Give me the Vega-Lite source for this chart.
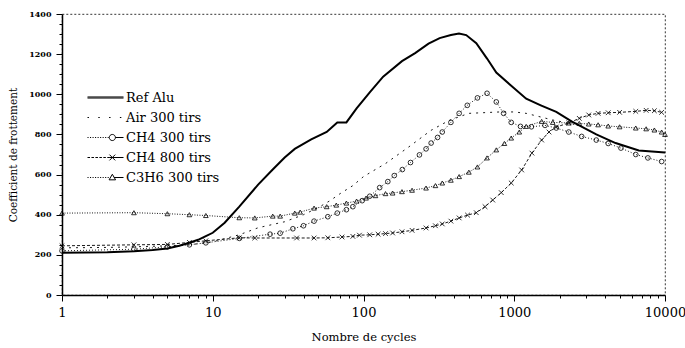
{
  "$schema": "https://vega.github.io/schema/vega-lite/v6.json",
  "width": 603,
  "height": 281,
  "autosize": {"type": "none"},
  "padding": {"left": 62, "top": 14, "right": 20, "bottom": 53},
  "background": "white",
  "config": {
    "view": {"stroke": "black", "strokeDash": [2, 2], "strokeWidth": 0.8},
    "axis": {"grid": false, "domainColor": "black", "tickColor": "black", "labelColor": "black", "titleColor": "black", "labelFont": "DejaVu Serif", "titleFont": "DejaVu Serif", "titleFontWeight": "normal"}
  },
  "data": {"values": [
    {"series": "Ref Alu", "x": 1, "y": 210}, {"series": "Ref Alu", "x": 2, "y": 213}, {"series": "Ref Alu", "x": 3, "y": 218}, {"series": "Ref Alu", "x": 4, "y": 224}, {"series": "Ref Alu", "x": 5, "y": 232}, {"series": "Ref Alu", "x": 6, "y": 245}, {"series": "Ref Alu", "x": 7, "y": 260}, {"series": "Ref Alu", "x": 8, "y": 275}, {"series": "Ref Alu", "x": 9, "y": 293}, {"series": "Ref Alu", "x": 10, "y": 310}, {"series": "Ref Alu", "x": 12, "y": 360}, {"series": "Ref Alu", "x": 15, "y": 440}, {"series": "Ref Alu", "x": 20, "y": 550}, {"series": "Ref Alu", "x": 25, "y": 625}, {"series": "Ref Alu", "x": 30, "y": 685}, {"series": "Ref Alu", "x": 35, "y": 728}, {"series": "Ref Alu", "x": 45, "y": 775}, {"series": "Ref Alu", "x": 57, "y": 812}, {"series": "Ref Alu", "x": 67, "y": 860}, {"series": "Ref Alu", "x": 77, "y": 860}, {"series": "Ref Alu", "x": 90, "y": 930}, {"series": "Ref Alu", "x": 110, "y": 1010}, {"series": "Ref Alu", "x": 135, "y": 1088}, {"series": "Ref Alu", "x": 180, "y": 1165}, {"series": "Ref Alu", "x": 220, "y": 1205}, {"series": "Ref Alu", "x": 270, "y": 1252}, {"series": "Ref Alu", "x": 320, "y": 1280}, {"series": "Ref Alu", "x": 380, "y": 1295}, {"series": "Ref Alu", "x": 430, "y": 1303}, {"series": "Ref Alu", "x": 480, "y": 1295}, {"series": "Ref Alu", "x": 560, "y": 1255}, {"series": "Ref Alu", "x": 660, "y": 1178}, {"series": "Ref Alu", "x": 760, "y": 1108}, {"series": "Ref Alu", "x": 930, "y": 1050}, {"series": "Ref Alu", "x": 1200, "y": 978}, {"series": "Ref Alu", "x": 1500, "y": 945}, {"series": "Ref Alu", "x": 1900, "y": 912}, {"series": "Ref Alu", "x": 2400, "y": 865}, {"series": "Ref Alu", "x": 3500, "y": 800}, {"series": "Ref Alu", "x": 4700, "y": 757}, {"series": "Ref Alu", "x": 6700, "y": 720}, {"series": "Ref Alu", "x": 10000, "y": 710},
    {"series": "Air 300 tirs", "x": 1, "y": 235}, {"series": "Air 300 tirs", "x": 2, "y": 237}, {"series": "Air 300 tirs", "x": 3, "y": 240}, {"series": "Air 300 tirs", "x": 5, "y": 245}, {"series": "Air 300 tirs", "x": 7, "y": 250}, {"series": "Air 300 tirs", "x": 10, "y": 265}, {"series": "Air 300 tirs", "x": 15, "y": 300}, {"series": "Air 300 tirs", "x": 20, "y": 335}, {"series": "Air 300 tirs", "x": 30, "y": 365}, {"series": "Air 300 tirs", "x": 40, "y": 400}, {"series": "Air 300 tirs", "x": 50, "y": 435}, {"series": "Air 300 tirs", "x": 60, "y": 470}, {"series": "Air 300 tirs", "x": 70, "y": 505}, {"series": "Air 300 tirs", "x": 85, "y": 545}, {"series": "Air 300 tirs", "x": 100, "y": 590}, {"series": "Air 300 tirs", "x": 140, "y": 655}, {"series": "Air 300 tirs", "x": 200, "y": 738}, {"series": "Air 300 tirs", "x": 280, "y": 820}, {"series": "Air 300 tirs", "x": 370, "y": 870}, {"series": "Air 300 tirs", "x": 500, "y": 905}, {"series": "Air 300 tirs", "x": 800, "y": 912}, {"series": "Air 300 tirs", "x": 1000, "y": 912}, {"series": "Air 300 tirs", "x": 1200, "y": 905}, {"series": "Air 300 tirs", "x": 1800, "y": 872}, {"series": "Air 300 tirs", "x": 2500, "y": 850},
    {"series": "CH4 300 tirs", "x": 1, "y": 220}, {"series": "CH4 300 tirs", "x": 3, "y": 228}, {"series": "CH4 300 tirs", "x": 5, "y": 240}, {"series": "CH4 300 tirs", "x": 7, "y": 250}, {"series": "CH4 300 tirs", "x": 9, "y": 260}, {"series": "CH4 300 tirs", "x": 15, "y": 282}, {"series": "CH4 300 tirs", "x": 24, "y": 303}, {"series": "CH4 300 tirs", "x": 28, "y": 308}, {"series": "CH4 300 tirs", "x": 34, "y": 330}, {"series": "CH4 300 tirs", "x": 40, "y": 345}, {"series": "CH4 300 tirs", "x": 47, "y": 368}, {"series": "CH4 300 tirs", "x": 58, "y": 390}, {"series": "CH4 300 tirs", "x": 67, "y": 408}, {"series": "CH4 300 tirs", "x": 77, "y": 425}, {"series": "CH4 300 tirs", "x": 85, "y": 440}, {"series": "CH4 300 tirs", "x": 98, "y": 470}, {"series": "CH4 300 tirs", "x": 110, "y": 492}, {"series": "CH4 300 tirs", "x": 128, "y": 535}, {"series": "CH4 300 tirs", "x": 145, "y": 565}, {"series": "CH4 300 tirs", "x": 160, "y": 595}, {"series": "CH4 300 tirs", "x": 181, "y": 625}, {"series": "CH4 300 tirs", "x": 205, "y": 660}, {"series": "CH4 300 tirs", "x": 235, "y": 698}, {"series": "CH4 300 tirs", "x": 260, "y": 728}, {"series": "CH4 300 tirs", "x": 281, "y": 757}, {"series": "CH4 300 tirs", "x": 310, "y": 785}, {"series": "CH4 300 tirs", "x": 333, "y": 812}, {"series": "CH4 300 tirs", "x": 380, "y": 860}, {"series": "CH4 300 tirs", "x": 431, "y": 905}, {"series": "CH4 300 tirs", "x": 488, "y": 945}, {"series": "CH4 300 tirs", "x": 570, "y": 982}, {"series": "CH4 300 tirs", "x": 660, "y": 1005}, {"series": "CH4 300 tirs", "x": 760, "y": 962}, {"series": "CH4 300 tirs", "x": 850, "y": 905}, {"series": "CH4 300 tirs", "x": 955, "y": 860}, {"series": "CH4 300 tirs", "x": 1100, "y": 840}, {"series": "CH4 300 tirs", "x": 1300, "y": 838}, {"series": "CH4 300 tirs", "x": 1600, "y": 845}, {"series": "CH4 300 tirs", "x": 1900, "y": 832}, {"series": "CH4 300 tirs", "x": 2300, "y": 812}, {"series": "CH4 300 tirs", "x": 2800, "y": 790}, {"series": "CH4 300 tirs", "x": 3500, "y": 772}, {"series": "CH4 300 tirs", "x": 4200, "y": 755}, {"series": "CH4 300 tirs", "x": 5100, "y": 732}, {"series": "CH4 300 tirs", "x": 6400, "y": 700}, {"series": "CH4 300 tirs", "x": 7700, "y": 683}, {"series": "CH4 300 tirs", "x": 9500, "y": 665},
    {"series": "CH4 800 tirs", "x": 1, "y": 245}, {"series": "CH4 800 tirs", "x": 3, "y": 250}, {"series": "CH4 800 tirs", "x": 5, "y": 252}, {"series": "CH4 800 tirs", "x": 7, "y": 262}, {"series": "CH4 800 tirs", "x": 9, "y": 270}, {"series": "CH4 800 tirs", "x": 15, "y": 285}, {"series": "CH4 800 tirs", "x": 19, "y": 284}, {"series": "CH4 800 tirs", "x": 36, "y": 284}, {"series": "CH4 800 tirs", "x": 47, "y": 284}, {"series": "CH4 800 tirs", "x": 58, "y": 285}, {"series": "CH4 800 tirs", "x": 72, "y": 289}, {"series": "CH4 800 tirs", "x": 85, "y": 292}, {"series": "CH4 800 tirs", "x": 94, "y": 298}, {"series": "CH4 800 tirs", "x": 110, "y": 300}, {"series": "CH4 800 tirs", "x": 125, "y": 303}, {"series": "CH4 800 tirs", "x": 140, "y": 306}, {"series": "CH4 800 tirs", "x": 156, "y": 309}, {"series": "CH4 800 tirs", "x": 180, "y": 315}, {"series": "CH4 800 tirs", "x": 210, "y": 322}, {"series": "CH4 800 tirs", "x": 260, "y": 334}, {"series": "CH4 800 tirs", "x": 300, "y": 345}, {"series": "CH4 800 tirs", "x": 333, "y": 354}, {"series": "CH4 800 tirs", "x": 380, "y": 368}, {"series": "CH4 800 tirs", "x": 431, "y": 384}, {"series": "CH4 800 tirs", "x": 490, "y": 398}, {"series": "CH4 800 tirs", "x": 560, "y": 410}, {"series": "CH4 800 tirs", "x": 640, "y": 440}, {"series": "CH4 800 tirs", "x": 720, "y": 473}, {"series": "CH4 800 tirs", "x": 820, "y": 510}, {"series": "CH4 800 tirs", "x": 955, "y": 558}, {"series": "CH4 800 tirs", "x": 1120, "y": 623}, {"series": "CH4 800 tirs", "x": 1310, "y": 707}, {"series": "CH4 800 tirs", "x": 1520, "y": 772}, {"series": "CH4 800 tirs", "x": 1700, "y": 812}, {"series": "CH4 800 tirs", "x": 1900, "y": 837}, {"series": "CH4 800 tirs", "x": 2300, "y": 857}, {"series": "CH4 800 tirs", "x": 2700, "y": 880}, {"series": "CH4 800 tirs", "x": 3120, "y": 897}, {"series": "CH4 800 tirs", "x": 3600, "y": 905}, {"series": "CH4 800 tirs", "x": 4200, "y": 908}, {"series": "CH4 800 tirs", "x": 5000, "y": 910}, {"series": "CH4 800 tirs", "x": 6400, "y": 915}, {"series": "CH4 800 tirs", "x": 7500, "y": 920}, {"series": "CH4 800 tirs", "x": 8500, "y": 918}, {"series": "CH4 800 tirs", "x": 9500, "y": 910},
    {"series": "C3H6 300 tirs", "x": 1, "y": 408}, {"series": "C3H6 300 tirs", "x": 3, "y": 410}, {"series": "C3H6 300 tirs", "x": 5, "y": 405}, {"series": "C3H6 300 tirs", "x": 7, "y": 400}, {"series": "C3H6 300 tirs", "x": 9, "y": 396}, {"series": "C3H6 300 tirs", "x": 15, "y": 385}, {"series": "C3H6 300 tirs", "x": 19, "y": 384}, {"series": "C3H6 300 tirs", "x": 25, "y": 393}, {"series": "C3H6 300 tirs", "x": 28, "y": 393}, {"series": "C3H6 300 tirs", "x": 35, "y": 408}, {"series": "C3H6 300 tirs", "x": 38, "y": 413}, {"series": "C3H6 300 tirs", "x": 47, "y": 433}, {"series": "C3H6 300 tirs", "x": 57, "y": 440}, {"series": "C3H6 300 tirs", "x": 66, "y": 448}, {"series": "C3H6 300 tirs", "x": 77, "y": 458}, {"series": "C3H6 300 tirs", "x": 90, "y": 468}, {"series": "C3H6 300 tirs", "x": 104, "y": 483}, {"series": "C3H6 300 tirs", "x": 120, "y": 495}, {"series": "C3H6 300 tirs", "x": 140, "y": 505}, {"series": "C3H6 300 tirs", "x": 156, "y": 508}, {"series": "C3H6 300 tirs", "x": 180, "y": 515}, {"series": "C3H6 300 tirs", "x": 210, "y": 522}, {"series": "C3H6 300 tirs", "x": 260, "y": 533}, {"series": "C3H6 300 tirs", "x": 300, "y": 545}, {"series": "C3H6 300 tirs", "x": 333, "y": 558}, {"series": "C3H6 300 tirs", "x": 380, "y": 572}, {"series": "C3H6 300 tirs", "x": 431, "y": 590}, {"series": "C3H6 300 tirs", "x": 500, "y": 612}, {"series": "C3H6 300 tirs", "x": 570, "y": 638}, {"series": "C3H6 300 tirs", "x": 660, "y": 683}, {"series": "C3H6 300 tirs", "x": 760, "y": 723}, {"series": "C3H6 300 tirs", "x": 860, "y": 755}, {"series": "C3H6 300 tirs", "x": 955, "y": 782}, {"series": "C3H6 300 tirs", "x": 1080, "y": 812}, {"series": "C3H6 300 tirs", "x": 1200, "y": 840}, {"series": "C3H6 300 tirs", "x": 1520, "y": 865}, {"series": "C3H6 300 tirs", "x": 1800, "y": 860}, {"series": "C3H6 300 tirs", "x": 2300, "y": 857}, {"series": "C3H6 300 tirs", "x": 2700, "y": 855}, {"series": "C3H6 300 tirs", "x": 3120, "y": 852}, {"series": "C3H6 300 tirs", "x": 3600, "y": 848}, {"series": "C3H6 300 tirs", "x": 4200, "y": 842}, {"series": "C3H6 300 tirs", "x": 5000, "y": 838}, {"series": "C3H6 300 tirs", "x": 6400, "y": 832}, {"series": "C3H6 300 tirs", "x": 7500, "y": 828}, {"series": "C3H6 300 tirs", "x": 8500, "y": 822}, {"series": "C3H6 300 tirs", "x": 9500, "y": 812}, {"series": "C3H6 300 tirs", "x": 10000, "y": 800}
  ]},
  "encoding": {
    "x": {"field": "x", "type": "quantitative", "scale": {"type": "log", "domain": [1, 10000], "nice": false},
      "axis": {"title": "Nombre de cycles", "format": "d",
        "values": [1,2,3,4,5,6,7,8,9,10,20,30,40,50,60,70,80,90,100,200,300,400,500,600,700,800,900,1000,2000,3000,4000,5000,6000,7000,8000,9000,10000],
        "labelExpr": "indexof([1,10,100,1000,10000], datum.value) >= 0 ? datum.label : ''",
        "tickSize": {"condition": {"test": "indexof([1,10,100,1000,10000], datum.value) >= 0", "value": 6}, "value": 3},
        "labelFlush": false, "labelOverlap": false, "labelBound": false, "domainWidth": 1.5,
        "labelFontSize": 13, "labelPadding": 5, "titleFontSize": 11.5, "titlePadding": 12}},
    "y": {"field": "y", "type": "quantitative", "scale": {"domain": [0, 1400], "nice": false},
      "axis": {"title": "Coefficient de frottement", "format": "d",
        "values": [0,50,100,150,200,250,300,350,400,450,500,550,600,650,700,750,800,850,900,950,1000,1050,1100,1150,1200,1250,1300,1350,1400],
        "labelExpr": "datum.value % 200 === 0 ? datum.label : ''",
        "tickSize": {"condition": {"test": "datum.value % 200 === 0", "value": 6}, "value": 3},
        "labelOverlap": false, "labelBound": false, "domainWidth": 1.5,
        "labelFontSize": 8, "labelFontWeight": "bold", "labelPadding": 5, "titleFontSize": 10.5, "titlePadding": 10}}
  },
  "layer": [
    {
      "transform": [{"filter": "datum.series === 'Ref Alu'"}],
      "mark": {"type": "line", "color": "black", "strokeWidth": 2},
      "encoding": {"detail": {"field": "series"}}
    },
    {
      "transform": [{"filter": "datum.series !== 'Ref Alu'"}],
      "mark": {"type": "line", "color": "black", "strokeWidth": 0.9},
      "encoding": {
        "detail": {"field": "series"},
        "strokeDash": {"field": "series", "type": "nominal",
          "scale": {"domain": ["Air 300 tirs", "CH4 300 tirs", "CH4 800 tirs", "C3H6 300 tirs"], "range": [[2, 5], [1, 2], [3, 2], [1, 1.5]]},
          "legend": null}
      }
    },
    {
      "transform": [{"filter": "datum.series !== 'Ref Alu' && datum.series !== 'Air 300 tirs'"}],
      "mark": {"type": "point", "filled": false, "color": "black", "strokeWidth": 0.8, "size": 22, "opacity": 1},
      "encoding": {
        "shape": {"field": "series", "type": "nominal",
          "scale": {"domain": ["CH4 300 tirs", "CH4 800 tirs", "C3H6 300 tirs"], "range": ["circle", "M-1,-1L1,1M-1,1L1,-1", "triangle-up"]},
          "legend": null}
      }
    },
    {
      "transform": [{"filter": "datum.x < 0"}],
      "mark": {"type": "point", "filled": false, "color": "black", "strokeWidth": 1, "size": 400, "opacity": 1},
      "encoding": {
        "shape": {"field": "series", "type": "nominal",
          "scale": {"domain": ["Ref Alu", "Air 300 tirs", "CH4 300 tirs", "CH4 800 tirs", "C3H6 300 tirs"],
            "range": [
              "M-1,-0.054L2.6,-0.054M-1,0.054L2.6,0.054",
              "M-1,0L-0.856,0M0.08,0L0.224,0M1.16,0L1.304,0M2.24,0L2.384,0",
              "M-1,0L-0.892,0M-0.748,0L-0.64,0M-0.496,0L-0.388,0M-0.244,0L-0.136,0M0.008,0L0.116,0M0.26,0L0.368,0M0.512,0L0.62,0M0.764,0L0.872,0M1.016,0L1.124,0M1.79,0A0.306,0.306,0,1,1,1.178,0A0.306,0.306,0,1,1,1.79,0M1.79,0L2.6,0",
              "M-1,0L-0.748,0M-0.604,0L-0.352,0M-0.208,0L0.044,0M0.188,0L0.44,0M0.584,0L0.836,0M0.98,0L1.16,0M1.196,-0.288L1.772,0.288M1.196,0.288L1.772,-0.288M1.16,0L2.6,0",
              "M-1,0L-0.892,0M-0.748,0L-0.64,0M-0.496,0L-0.388,0M-0.244,0L-0.136,0M0.008,0L0.116,0M0.26,0L0.368,0M0.512,0L0.62,0M0.764,0L0.872,0M1.016,0L1.124,0M1.484,-0.324L1.808,0.234L1.16,0.234ZM1.646,0L2.6,0"
            ]},
          "legend": {"title": null, "orient": "none", "legendX": 25, "legendY": 73, "symbolSize": 400,
            "labelFont": "DejaVu Serif", "labelFontSize": 13, "labelColor": "black", "labelOffset": 18,
            "rowPadding": 2, "symbolStrokeWidth": 1, "symbolStrokeColor": "black", "symbolFillColor": "transparent", "symbolOpacity": 1}}
      }
    }
  ],
  "resolve": {"scale": {"shape": "independent"}}
}
